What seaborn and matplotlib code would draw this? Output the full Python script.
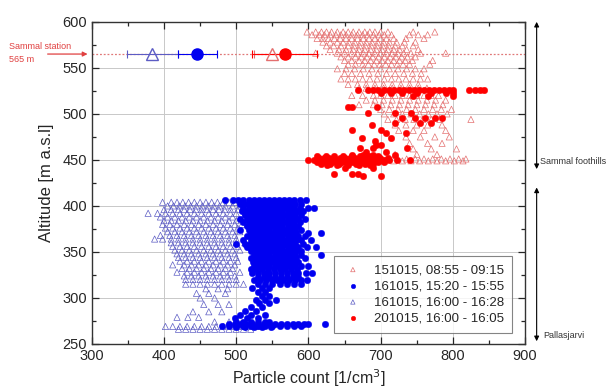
import matplotlib
matplotlib.use("Agg")
import matplotlib.pyplot as plt
import seaborn as sns
import pandas as pd

# 151015, 08:55 - 09:15 (open red triangles): altitude levels and counts on each level
tri_151015_alt = [589, 586, 582, 578, 574, 570, 566, 562, 558, 554, 549, 544, 538, 532, 528,
                  520, 515, 510, 505, 500, 494, 488, 482, 475, 468, 462, 456, 451, 449]
tri_151015_cnt = [
    [598, 610, 618, 625, 632, 640, 648, 655, 662, 670, 678, 685, 692, 700, 710, 745, 775],
    [605, 615, 622, 630, 638, 645, 652, 660, 668, 675, 682, 690, 698, 705, 715, 740, 752, 765],
    [612, 620, 628, 636, 644, 652, 660, 668, 676, 684, 692, 700, 708, 718, 735, 760],
    [620, 630, 640, 648, 656, 664, 672, 680, 688, 696, 704, 712, 722, 733, 748],
    [625, 635, 645, 655, 663, 671, 679, 687, 695, 703, 711, 720, 730, 745],
    [630, 642, 652, 662, 670, 678, 686, 694, 702, 710, 718, 726, 736, 752],
    [610, 640, 650, 660, 668, 676, 684, 692, 700, 708, 716, 724, 732, 742, 755, 790],
    [645, 655, 665, 673, 681, 689, 697, 705, 713, 721, 729, 737, 748],
    [650, 660, 670, 678, 686, 694, 702, 710, 718, 726, 734, 744, 772],
    [655, 665, 675, 683, 691, 699, 707, 715, 723, 731, 740, 768],
    [640, 652, 664, 676, 688, 700, 712, 724, 736, 748, 760],
    [650, 660, 672, 684, 696, 708, 720, 732, 744, 756],
    [645, 655, 665, 675, 685, 695, 705, 715, 725, 735, 745, 755, 765],
    [655, 668, 680, 692, 704, 716, 728, 740, 752],
    [670, 680, 692, 704, 716, 728, 740, 752, 764],
    [660, 675, 690, 700, 710, 720, 730, 740, 750, 760, 770, 780],
    [680, 692, 704, 716, 728, 740, 752, 764, 776, 790],
    [670, 690, 702, 714, 726, 738, 750, 762, 774, 786],
    [700, 712, 724, 736, 748, 760, 772, 784, 798],
    [705, 718, 730, 742, 754, 766, 778, 792],
    [710, 722, 734, 746, 758, 770, 782, 825],
    [720, 735, 750, 765, 785],
    [725, 745, 760, 790],
    [735, 755, 775, 795],
    [740, 765, 785],
    [745, 770, 805],
    [720, 750, 778],
    [700, 712, 724, 736, 748, 760, 772, 784, 796, 808, 818],
    [690, 705, 718, 730, 742, 754, 766, 778, 790, 802, 814],
]

# 161015, 15:20 - 15:55 (filled blue circles)
dot_161015a_alt = [406, 402, 398, 394, 390, 386, 382, 378, 374, 371, 367, 363, 359, 355, 351,
                   347, 343, 339, 335, 331, 327, 323, 319, 315, 311, 307, 302, 298, 294, 290,
                   286, 282, 278, 274, 272, 270, 268]
dot_161015a_cnt = [
    [485, 495, 503, 510, 517, 524, 531, 538, 545, 552, 559, 566, 573, 580, 588, 596],
    [505, 512, 519, 526, 533, 540, 547, 554, 561, 568, 575, 582, 590],
    [510, 517, 524, 531, 538, 545, 552, 559, 566, 573, 580, 588, 600, 608],
    [508, 515, 522, 529, 536, 543, 550, 557, 564, 571, 578, 585, 592],
    [512, 519, 526, 533, 540, 547, 554, 561, 568, 575, 582, 590],
    [505, 515, 522, 529, 536, 543, 550, 557, 564, 571, 578, 585, 595],
    [510, 517, 524, 531, 538, 545, 552, 559, 566, 573, 580, 588],
    [515, 522, 529, 536, 543, 550, 557, 564, 571, 578, 585],
    [505, 518, 525, 532, 539, 546, 553, 560, 567, 574, 581, 590],
    [520, 527, 534, 541, 548, 555, 562, 569, 576, 583, 600, 618],
    [515, 522, 529, 536, 543, 550, 557, 564, 571, 578, 585, 595],
    [510, 520, 527, 534, 541, 548, 555, 562, 569, 576, 583, 590, 603],
    [500, 512, 519, 526, 533, 540, 547, 554, 561, 568, 575, 582, 592],
    [515, 522, 529, 536, 543, 550, 557, 564, 571, 578, 585, 598, 610],
    [520, 527, 534, 541, 548, 555, 562, 569, 576, 583, 590],
    [525, 532, 539, 546, 553, 560, 567, 574, 581, 590, 617],
    [520, 527, 534, 541, 548, 555, 562, 569, 576, 583, 595],
    [523, 530, 537, 544, 551, 558, 565, 572, 579, 586],
    [525, 532, 539, 546, 553, 560, 567, 574, 581, 590, 600],
    [520, 528, 536, 544, 552, 560, 568, 576, 584],
    [522, 530, 538, 546, 554, 562, 570, 578, 586, 596, 605],
    [530, 538, 546, 554, 562, 570, 578, 586],
    [525, 533, 541, 549, 557, 565, 573, 581, 590, 598],
    [530, 540, 550, 560, 570, 580, 590],
    [522, 535, 545],
    [530, 540],
    [535, 545],
    [528, 540, 555],
    [532, 545],
    [520, 535],
    [512, 528],
    [505, 520, 540],
    [498, 515, 530],
    [500, 510, 520, 530, 540, 545],
    [490, 498, 506, 514, 522, 530, 538, 546, 554, 562, 570, 578, 586, 594, 600, 623],
    [480, 490, 500, 510, 520, 530, 540, 550, 560, 570, 580, 590],
    [500, 512, 524, 536, 548],
]

# 161015, 16:00 - 16:28 (open blue triangles)
tri_161015b_alt = [404, 400, 396, 392, 388, 384, 380, 376, 372, 368, 364, 360, 356, 352, 348,
                   344, 340, 336, 332, 328, 324, 320, 315, 310, 305, 300, 293, 285, 279, 274,
                   269, 266]
tri_161015b_cnt = [
    [398, 410, 418, 426, 434, 442, 450, 458, 466, 474, 482, 490, 498],
    [405, 413, 421, 429, 437, 445, 453, 461, 469, 477, 485, 495, 505],
    [400, 410, 420, 428, 436, 444, 452, 460, 468, 476, 484, 492, 502],
    [378, 391, 402, 412, 422, 432, 442, 452, 462, 472, 482, 492, 500],
    [395, 405, 415, 425, 435, 445, 455, 465, 475, 485, 495, 510],
    [400, 410, 420, 430, 440, 450, 460, 470, 480, 490, 500],
    [398, 408, 418, 428, 438, 448, 458, 468, 478, 488, 498, 508],
    [402, 412, 422, 432, 442, 452, 462, 472, 482, 492, 502],
    [405, 415, 425, 435, 445, 455, 465, 475, 485, 495, 505],
    [395, 408, 418, 428, 438, 448, 458, 468, 478, 488, 498],
    [387, 398, 410, 420, 430, 440, 450, 460, 470, 480, 490, 500],
    [410, 420, 430, 440, 450, 460, 470, 480, 490, 500, 512],
    [412, 422, 432, 442, 452, 462, 472, 482, 492, 502],
    [415, 425, 435, 445, 455, 465, 475, 485, 495, 505],
    [418, 428, 438, 448, 458, 468, 478, 488, 498],
    [420, 430, 440, 450, 460, 470, 480, 490, 500],
    [422, 432, 442, 452, 462, 472, 482, 492, 502],
    [412, 428, 438, 448, 458, 468, 478, 488, 498],
    [425, 435, 445, 455, 465, 475, 485, 495],
    [418, 432, 442, 452, 462, 472, 482, 492, 505],
    [428, 438, 448, 458, 468, 478, 488, 498],
    [430, 440, 450, 460, 470, 480, 490, 500],
    [430, 440, 450, 460, 470, 480, 490, 500, 510],
    [458, 475, 488],
    [445, 462, 485],
    [450, 470],
    [455, 475, 490],
    [440, 462, 480],
    [418, 433, 448],
    [470, 490],
    [402, 412, 422, 432, 442, 452, 462, 472, 482, 492, 502, 512, 522, 532],
    [420, 430, 440, 450, 460, 470, 480, 490, 500, 510, 520],
]

# 201015, 16:00 - 16:05 (filled red circles)
dot_201015_alt = [526, 523, 519, 508, 501, 495, 490, 488, 482, 479, 474, 470, 466, 463, 459,
                  455, 454, 452, 450, 448, 446, 445, 441, 435, 433]
dot_201015_cnt = [
    [668, 683, 690, 697, 704, 711, 718, 725, 732, 739, 746, 753, 760, 767, 774, 781, 788,
     795, 800, 822, 830, 838, 843],
    [700, 715, 730, 750, 770, 790, 800],
    [745, 765, 800],
    [655, 661, 695],
    [682, 720, 742],
    [730, 748, 762, 775, 785],
    [720, 755, 770],
    [688],
    [660, 700],
    [708, 735],
    [674, 715],
    [692],
    [694, 700],
    [671, 690, 736],
    [680, 708],
    [660, 675, 690, 720],
    [612, 624, 636, 648, 660, 672, 684, 696],
    [615, 622, 629, 636, 643, 650, 657, 664, 671, 678, 685, 692, 699, 710],
    [600, 608, 614, 620, 626, 632, 638, 644, 650, 656, 662, 668, 674, 680, 686, 692, 698,
     704, 712, 722, 740],
    [612, 619, 626, 633, 640, 647, 654, 661, 668, 675, 682, 689, 696, 705],
    [618, 630, 642, 654, 666, 678, 690],
    [625, 640, 655, 670, 685],
    [650, 690],
    [635, 660, 668],
    [675, 700],
]

# mean counts at Sammal station (565 m) with error bars
mean_labels = ["161015b", "161015a", "151015", "201015"]
mean_cnt = [384, 446, 549, 567]
mean_err = [35, 27, 25, 45]
station_alt = 565


def to_frame(alts, rows):
    recs = [(c, a) for a, row in zip(alts, rows) for c in row]
    return pd.DataFrame(recs, columns=["count", "alt"])


red_tri = to_frame(tri_151015_alt, tri_151015_cnt)
blue_dot = to_frame(dot_161015a_alt, dot_161015a_cnt)
blue_tri = to_frame(tri_161015b_alt, tri_161015b_cnt)
red_dot = to_frame(dot_201015_alt, dot_201015_cnt)

sns.set_style("ticks")
plt.rcParams["font.family"] = ["Liberation Sans", "DejaVu Sans"]

fig = plt.figure(figsize=(6.12, 3.9), dpi=100)
ax = fig.add_axes([0.150, 0.118, 0.708, 0.826])

c_rtri = "#e46f6f"
c_btri = "#5c5cc4"
c_bdot = "#0000f0"
c_rdot = "#ff0000"

ax.axhline(station_alt, color="#e07878", lw=0.9, ls=(0, (1.5, 1.5)), zorder=1)

sns.scatterplot(data=red_tri, x="count", y="alt", marker="^", s=20, facecolor="none",
                edgecolor=c_rtri, linewidth=0.5, label="151015, 08:55 - 09:15", ax=ax, zorder=3)
sns.scatterplot(data=blue_dot, x="count", y="alt", marker="o", s=22, color=c_bdot,
                edgecolor=c_bdot, linewidth=0.3, label="161015, 15:20 - 15:55", ax=ax, zorder=4)
sns.scatterplot(data=blue_tri, x="count", y="alt", marker="^", s=20, facecolor="none",
                edgecolor=c_btri, linewidth=0.5, label="161015, 16:00 - 16:28", ax=ax, zorder=3)
sns.scatterplot(data=red_dot, x="count", y="alt", marker="o", s=22, color=c_rdot,
                edgecolor=c_rdot, linewidth=0.3, label="201015, 16:00 - 16:05", ax=ax, zorder=4)

# station means
mean_style = [("^", c_btri, "none"), ("o", c_bdot, c_bdot), ("^", c_rtri, "none"), ("o", c_rdot, c_rdot)]
for m, e, (mk, ec, fc) in zip(mean_cnt, mean_err, mean_style):
    ax.errorbar(m, station_alt, xerr=e, fmt="none", ecolor=ec, elinewidth=0.8, capsize=3,
                capthick=0.8, zorder=5)
    ax.plot(m, station_alt, marker=mk, ms=9 if mk == "^" else 8, mec=ec, mfc=fc, mew=1.0,
            ls="none", zorder=6)

ax.set_xlim(300, 900)
ax.set_ylim(250, 600)
ax.set_xticks(range(300, 901, 100))
ax.set_yticks(range(250, 601, 50))
ax.set_xticks(range(350, 900, 100), minor=True)
ax.set_yticks(range(275, 600, 50), minor=True)
ax.grid(True, which="major", color="#c8c8c8", lw=0.7)
ax.tick_params(which="both", direction="in", top=True, right=True, labelsize=10.5)
ax.tick_params(which="major", length=5, width=0.9)
ax.tick_params(which="minor", length=3, width=0.9)
for sp in ax.spines.values():
    sp.set_linewidth(1.0)
    sp.set_color("#333333")

ax.set_xlabel("Particle count [1/cm$^3$]", fontsize=11.5, labelpad=3)
ax.set_ylabel("Altitude [m a.s.l]", fontsize=12, labelpad=6)

leg = ax.legend(loc="lower right", bbox_to_anchor=(0.985, 0.015), fontsize=9.5,
                frameon=True, fancybox=False, edgecolor="#666666", markerscale=0.7,
                handletextpad=0.8, borderpad=0.6, labelspacing=0.3, handlelength=1.6)
leg.get_frame().set_linewidth(0.8)

# left label for station
ax.text(186, 573, "Sammal station", color="#e04040", fontsize=6.5, ha="left", va="center",
        clip_on=False)
ax.text(186, 559, "565 m", color="#e04040", fontsize=6.5, ha="left", va="center", clip_on=False)
ax.annotate("", xy=(298, station_alt), xytext=(235, station_alt), annotation_clip=False,
            arrowprops=dict(arrowstyle="-|>", color="#e04040", lw=0.9, mutation_scale=7))

# right side ranges
ax.annotate("", xy=(916, 600), xytext=(916, 440), annotation_clip=False,
            arrowprops=dict(arrowstyle="<|-|>", color="black", lw=0.8, mutation_scale=7,
                            shrinkA=0, shrinkB=0))
ax.annotate("", xy=(916, 420), xytext=(916, 253), annotation_clip=False,
            arrowprops=dict(arrowstyle="<|-|>", color="black", lw=0.8, mutation_scale=7,
                            shrinkA=0, shrinkB=0))
ax.text(921, 448, "Sammal foothills", fontsize=6.5, color="#333333", ha="left", va="center",
        clip_on=False)
ax.text(925, 259, "Pallasjarvi", fontsize=6.5, color="#333333", ha="left", va="center",
        clip_on=False)

fig.savefig("out.png", dpi=100)
